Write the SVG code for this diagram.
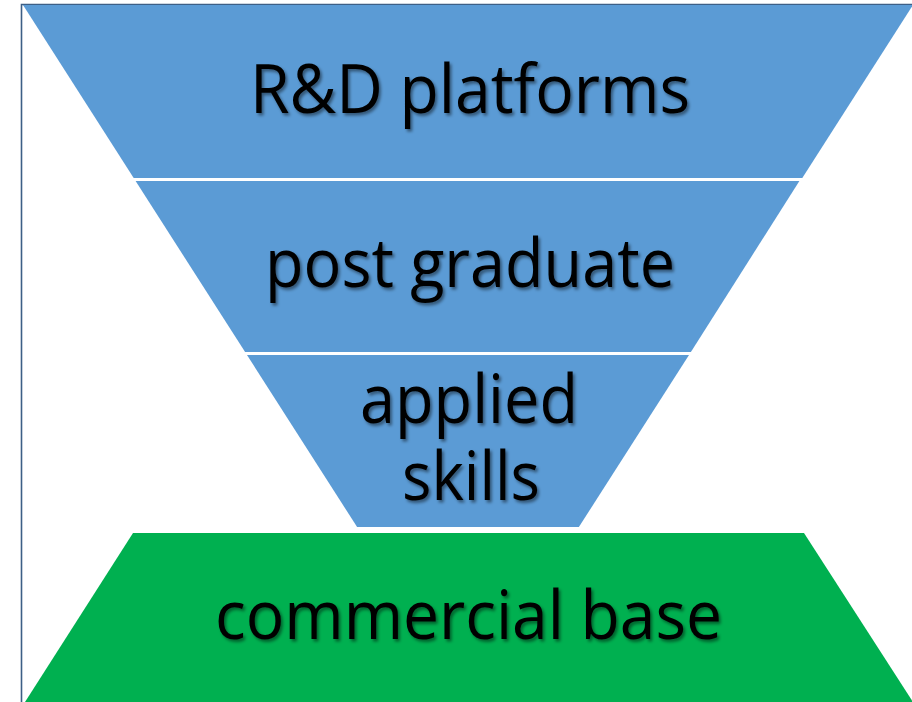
<svg xmlns="http://www.w3.org/2000/svg" width="912" height="702" viewBox="0 0 912 702">
  <defs>
    <filter id="shadow" x="-10%" y="-20%" width="120%" height="150%">
      <feDropShadow dx="2" dy="2.5" stdDeviation="1.5" flood-color="#000" flood-opacity="0.45"/>
    </filter>
  </defs>
  <style>
    .blue { fill: #5b9bd5; }
    .green { fill: #00b050; }
    .lbl { font-family: "Open Sans", "Liberation Sans", sans-serif; font-size: 67px; fill: #000; text-anchor: middle; filter: url(#shadow); }
    .frame { stroke: #3d5f86; stroke-width: 1.6; fill: none; }
  </style>
  <rect width="912" height="702" fill="#ffffff"/>
  <g id="frame">
    <polyline class="frame" points="21.5,702 21.5,4.5 912,4.5"/>
  </g>
  <g id="rd-platforms">
    <polygon class="blue" points="23,5 913,5 802.3,178 133.7,178"/>
    <text class="lbl" x="470" y="113" textLength="440" lengthAdjust="spacingAndGlyphs">R&amp;D platforms</text>
  </g>
  <g id="post-graduate">
    <polygon class="blue" points="135.6,181 799.4,181 690.9,352 245.1,352"/>
    <text class="lbl" x="470" y="287" textLength="410" lengthAdjust="spacingAndGlyphs">post graduate</text>
  </g>
  <g id="applied-skills">
    <polygon class="blue" points="247,355 689,355 578.9,527 357.1,527"/>
    <text class="lbl" x="469" y="423" textLength="218" lengthAdjust="spacingAndGlyphs">applied</text>
    <text class="lbl" x="471" y="500" textLength="138" lengthAdjust="spacingAndGlyphs">skills</text>
  </g>
  <g id="commercial-base">
    <polygon class="green" points="133,533 804,533 913,702 25,702"/>
    <text class="lbl" x="468.5" y="639" textLength="507" lengthAdjust="spacingAndGlyphs">commercial base</text>
  </g>
  <g id="connectors"/>
</svg>
